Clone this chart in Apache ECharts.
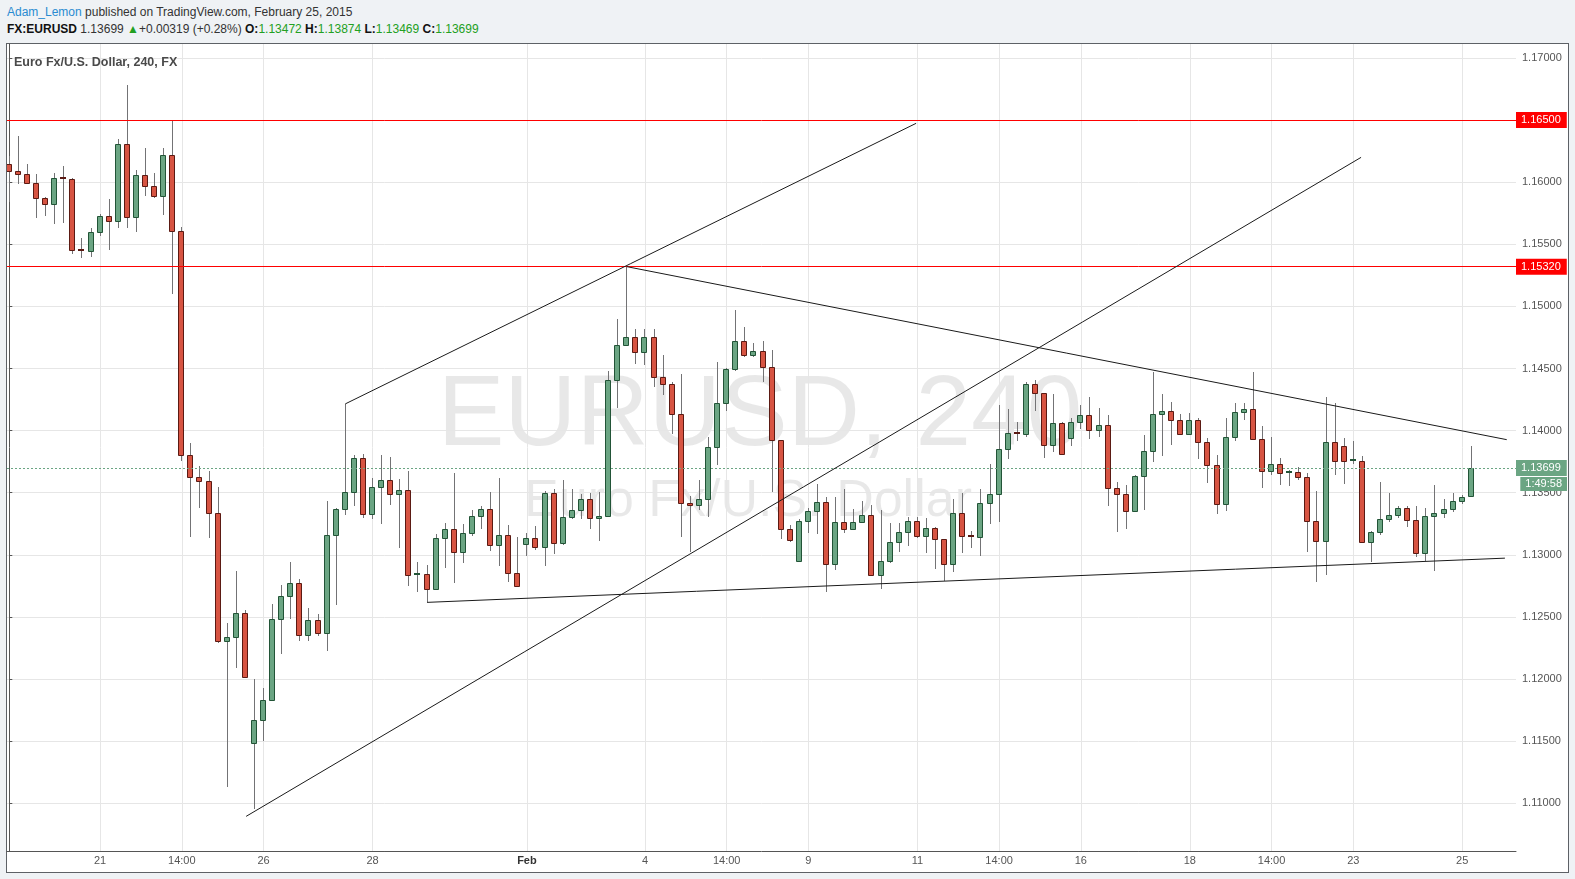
<!DOCTYPE html>
<html>
<head>
<meta charset="utf-8">
<script src="https://cdn.jsdelivr.net/npm/echarts@6/dist/echarts.min.js"></script>
<style>
  html, body { margin:0; padding:0; background:#eff2f5; }
  #wrap { position:relative; width:1575px; height:879px; overflow:hidden; }
  .hdr { position:absolute; left:7px; font-family:'Liberation Sans', Arial, sans-serif; font-size:12px; color:#333; white-space:nowrap; }
  #box { position:absolute; left:6px; top:43px; width:1563px; height:830px; box-sizing:border-box; background:#fff; border:1px solid #5d6166; }
  #chart { position:absolute; left:0; top:0; width:1575px; height:879px; }
  .g { color:#22a022; }
  b { color:#111; }
</style>
</head>
<body>
<div id="wrap">
  <div class="hdr" style="top:5px;"><span style="color:#2a8bd1">Adam_Lemon</span> published on TradingView.com, February 25, 2015</div>
  <div class="hdr" style="top:22px;"><b>FX:EURUSD</b> 1.13699 <span class="g">&#9650;</span>+0.00319 (+0.28%) <b>O:</b><span class="g">1.13472</span> <b>H:</b><span class="g">1.13874</span> <b>L:</b><span class="g">1.13469</span> <b>C:</b><span class="g">1.13699</span></div>
  <div id="box"></div>
  <div id="chart"></div>
</div>
<script>
// ---- data (4h EURUSD candles, index 0 = first visible bar) ----
const opens = [1.16145,1.16089,1.16065,1.15992,1.15871,1.15823,1.16032,1.16024,1.15452,1.15448,
1.15597,1.15729,1.15686,1.16306,1.15718,1.16056,1.15968,1.15887,1.16218,1.15605,
1.13803,1.13629,1.13594,1.13339,1.12307,1.12339,1.12530,1.11488,1.11673,1.11833,
1.12485,1.12670,1.12775,1.12356,1.12471,1.12367,1.13162,1.13368,1.13505,1.13780,
1.13328,1.13546,1.13602,1.13489,1.13522,1.12836,1.12842,1.12723,1.13134,1.13207,
1.13022,1.13175,1.13312,1.13368,1.13078,1.13159,1.12852,1.13086,1.13134,1.13062,
1.13497,1.13094,1.13304,1.13360,1.13449,1.13296,1.13310,1.14406,1.14692,1.14757,
1.14636,1.14757,1.14428,1.14372,1.14131,1.13417,1.13401,1.13449,1.13866,1.14219,
1.14495,1.14725,1.14612,1.14644,1.14516,1.13922,1.13211,1.12947,1.13275,1.13355,
1.13426,1.12923,1.13267,1.13211,1.13267,1.13322,1.12835,1.12947,1.13107,1.13187,
1.13275,1.13155,1.13219,1.13131,1.12923,1.13339,1.13155,1.13147,1.13418,1.13489,
1.13850,1.13979,1.13971,1.14372,1.14299,1.13882,1.14059,1.13938,1.14067,1.14126,
1.14008,1.14043,1.13537,1.13489,1.13353,1.13634,1.13834,1.14131,1.14155,1.14083,
1.13971,1.14083,1.13906,1.13722,1.13409,1.13946,1.14147,1.14171,1.13933,1.13675,
1.13731,1.13659,1.13667,1.13626,1.13272,1.13110,1.13909,1.13876,1.13755,1.13758,
1.13102,1.13183,1.13288,1.13320,1.13376,1.13280,1.13013,1.13312,1.13336,1.13368,
1.13433,1.13472];
const highs = [1.16212,1.16374,1.16148,1.16067,1.15882,1.16075,1.16132,1.16030,1.15551,1.15632,
1.15742,1.15866,1.16349,1.16785,1.16099,1.16274,1.16073,1.16274,1.16500,1.15637,
1.13901,1.13716,1.13678,1.13549,1.12454,1.12872,1.12558,1.11997,1.11931,1.12600,
1.12754,1.12938,1.12806,1.12572,1.12527,1.13437,1.13378,1.14215,1.13806,1.13815,
1.13618,1.13806,1.13790,1.13613,1.13677,1.12944,1.12920,1.13169,1.13258,1.13661,
1.13250,1.13363,1.13395,1.13508,1.13621,1.13239,1.13140,1.13174,1.13234,1.13516,
1.13532,1.13605,1.13532,1.13492,1.13497,1.13503,1.14479,1.14896,1.15320,1.14821,
1.14821,1.14821,1.14607,1.14390,1.14455,1.13476,1.13604,1.13946,1.14551,1.14508,
1.14968,1.14832,1.14703,1.14719,1.14650,1.13922,1.13237,1.13291,1.13378,1.13573,
1.13464,1.13464,1.13533,1.13365,1.13437,1.13397,1.13362,1.13259,1.13259,1.13307,
1.13307,1.13299,1.13227,1.13131,1.13450,1.13498,1.13195,1.13530,1.13730,1.14203,
1.14174,1.14069,1.14393,1.14406,1.14299,1.14294,1.14069,1.14099,1.14206,1.14270,
1.14182,1.14126,1.13588,1.13561,1.13642,1.13963,1.14473,1.14294,1.14230,1.14134,
1.14142,1.14099,1.13938,1.13805,1.14102,1.14222,1.14222,1.14473,1.14040,1.13952,
1.13780,1.13683,1.13707,1.13661,1.13513,1.14274,1.14226,1.13941,1.13919,1.13798,
1.13191,1.13589,1.13500,1.13393,1.13393,1.13393,1.13376,1.13562,1.13452,1.13497,
1.13481,1.13874];
const lows = [1.15844,1.15989,1.15987,1.15715,1.15731,1.15667,1.15675,1.15425,1.15387,1.15401,
1.15570,1.15457,1.15634,1.15634,1.15602,1.15892,1.15876,1.15739,1.15097,1.13754,
1.13141,1.13374,1.13134,1.12293,1.11132,1.12088,1.12010,1.10951,1.11502,1.11820,
1.12199,1.12482,1.12304,1.12304,1.12346,1.12224,1.12593,1.13317,1.13390,1.13293,
1.13285,1.13245,1.13401,1.13051,1.12745,1.12704,1.12617,1.12714,1.12890,1.12769,
1.12930,1.13151,1.13204,1.13030,1.12906,1.12777,1.12739,1.12989,1.13035,1.12906,
1.13003,1.13078,1.13288,1.13288,1.13207,1.13110,1.13302,1.14179,1.14692,1.14540,
1.14529,1.14353,1.14283,1.13976,1.13142,1.13021,1.13358,1.13302,1.13727,1.14160,
1.14481,1.14594,1.14596,1.14393,1.13505,1.13125,1.13104,1.12947,1.13173,1.13168,
1.12699,1.12880,1.13173,1.13197,1.13259,1.12835,1.12723,1.12930,1.13019,1.13072,
1.13139,1.13016,1.12883,1.12787,1.12859,1.13011,1.13051,1.12988,1.13251,1.13262,
1.13770,1.13920,1.13947,1.14160,1.13783,1.13826,1.13810,1.13880,1.14013,1.13933,
1.13952,1.13390,1.13182,1.13206,1.13353,1.13358,1.13751,1.13799,1.13888,1.13963,
1.13963,1.13770,1.13578,1.13329,1.13350,1.13914,1.14086,1.13922,1.13535,1.13640,
1.13559,1.13551,1.13599,1.13019,1.12780,1.12841,1.13640,1.13567,1.13731,1.13094,
1.12938,1.13159,1.13263,1.13296,1.13223,1.12981,1.12949,1.12866,1.13296,1.13344,
1.13409,1.13469];
const closes = [1.16089,1.16065,1.15992,1.15871,1.15823,1.16032,1.16024,1.15452,1.15448,1.15597,
1.15729,1.15686,1.16306,1.15718,1.16056,1.15968,1.15887,1.16218,1.15605,1.13803,
1.13629,1.13594,1.13339,1.12307,1.12339,1.12530,1.12018,1.11673,1.11833,1.12485,
1.12670,1.12775,1.12356,1.12471,1.12367,1.13162,1.13371,1.13505,1.13780,1.13328,
1.13546,1.13602,1.13489,1.13522,1.12836,1.12842,1.12723,1.13134,1.13207,1.13022,
1.13175,1.13312,1.13368,1.13078,1.13159,1.12852,1.12747,1.13134,1.13062,1.13497,
1.13094,1.13304,1.13360,1.13449,1.13296,1.13312,1.14406,1.14692,1.14757,1.14636,
1.14757,1.14428,1.14372,1.14131,1.13417,1.13401,1.13449,1.13866,1.14219,1.14495,
1.14725,1.14612,1.14644,1.14516,1.13922,1.13211,1.13123,1.13275,1.13355,1.13426,
1.12923,1.13267,1.13211,1.13267,1.13322,1.12835,1.12947,1.13107,1.13187,1.13275,
1.13155,1.13219,1.13131,1.12923,1.13339,1.13155,1.13147,1.13418,1.13490,1.13850,
1.13979,1.13971,1.14372,1.14299,1.13882,1.14059,1.13810,1.14067,1.14126,1.14008,
1.14043,1.13537,1.13489,1.13353,1.13634,1.13834,1.14131,1.14155,1.14083,1.13971,
1.14083,1.13906,1.13722,1.13409,1.13946,1.14147,1.14171,1.13930,1.13675,1.13731,
1.13659,1.13667,1.13626,1.13272,1.13110,1.13909,1.13755,1.13755,1.13761,1.13102,
1.13183,1.13288,1.13320,1.13376,1.13280,1.13013,1.13312,1.13336,1.13368,1.13433,
1.13465,1.13699];

// time-axis labels (bar index -> text)
const timeTickIdx = [10,19,28,40,57,70,79,88,100,109,118,130,139,148,160];
const timeTickText = ['21','14:00','26','28','Feb','4','14:00','9','11','14:00','16','18','14:00','23','25'];

// price-axis ticks
const priceTicks = [1.110,1.115,1.120,1.125,1.130,1.135,1.140,1.145,1.150,1.155,1.160,1.165,1.170];

// horizontal levels
const redLevels = [1.16500, 1.15320];
const lastPrice = 1.13699;
const countdown = '1:49:58';

// drawn trend lines: [barIndex, price] pairs
const trendUpperChannel = [[37, 1.14215], [99.86, 1.16474]];
const trendLowerChannel = [[26.08, 1.10894], [148.86, 1.16200]];
const trendResistance   = [[68, 1.15320], [164.9, 1.13927]];
const trendSupport      = [[46, 1.12617], [164.7, 1.12973]];

const candleData = opens.map((o, i) => [i, o, closes[i], lows[i], highs[i]]);

const chart = echarts.init(document.getElementById('chart'), null, {renderer:'canvas'});

function renderCandle(params, api) {
  const i = api.value(0), o = api.value(1), c = api.value(2), l = api.value(3), h = api.value(4);
  const pO = api.coord([i, o]), pC = api.coord([i, c]), pL = api.coord([i, l]), pH = api.coord([i, h]);
  const x = Math.floor(pO[0]);
  const up = c >= o;
  const top = Math.round(Math.min(pO[1], pC[1]));
  const bot = Math.round(Math.max(pO[1], pC[1]));
  const children = [{
    type: 'line',
    shape: {x1: x + 0.5, y1: Math.round(pH[1]), x2: x + 0.5, y2: Math.round(pL[1])},
    style: {stroke: '#737375', lineWidth: 1}
  }];
  if (bot - top >= 2) {
    children.push({
      type: 'rect',
      shape: {x: x - 2.5, y: top + 0.5, width: 5, height: bot - top},
      style: {fill: up ? '#6ba583' : '#d75442', stroke: up ? '#225437' : '#5b1a13', lineWidth: 1}
    });
  } else {
    children.push({
      type: 'rect',
      shape: {x: x - 3, y: top - 1, width: 6, height: 2},
      style: {fill: up ? '#225437' : '#5b1a13'}
    });
  }
  return {type: 'group', children};
}

function trendSeries(pts) {
  return {
    type: 'line', data: pts, symbol: 'none', silent: true, z: 5,
    lineStyle: {color: '#1a1a1a', width: 1}, clip: true, animation: false
  };
}

const lblFont = "'Liberation Sans', Arial, sans-serif";

function levelLine(value, color, dashed) {
  return {
    yAxis: value,
    lineStyle: {color: color, width: 1, type: dashed ? [2, 2] : 'solid'},
    label: {show: true, position: 'end', distance: 0, formatter: value.toFixed(5), color: '#fff',
            backgroundColor: color, padding: [2, 6, 2, 5], fontSize: 11, fontFamily: lblFont, lineHeight: 12}
  };
}

const option = {
  animation: false,
  grid: {left: 7, top: 44, right: 59, bottom: 28, show: false},
  xAxis: {
    type: 'value', min: -0.253, max: 165.92,
    axisLine: {show: true, onZero: false, lineStyle: {color: '#555', width: 1}},
    axisTick: {show: false, customValues: timeTickIdx},
    splitLine: {show: true, lineStyle: {color: '#e6e6e6', width: 1}},
    axisLabel: {
      customValues: timeTickIdx, margin: 4, color: '#555', fontSize: 11, fontFamily: lblFont,
      formatter: v => {
        const k = timeTickIdx.indexOf(Math.round(v));
        const t = k >= 0 ? timeTickText[k] : '';
        return t === 'Feb' ? '{b|Feb}' : t;
      },
      rich: {b: {fontWeight: 'bold', color: '#333', fontSize: 11, fontFamily: lblFont}}
    }
  },
  yAxis: {
    type: 'value', position: 'right', min: 1.106151, max: 1.171127,
    axisLine: {show: true, lineStyle: {color: '#555', width: 1}},
    axisTick: {show: true, length: 3, customValues: priceTicks, lineStyle: {color: '#555'}},
    splitLine: {show: true, lineStyle: {color: '#e6e6e6', width: 1}},
    axisLabel: {
      customValues: priceTicks, margin: 6, color: '#555', fontSize: 11, fontFamily: lblFont,
      formatter: v => v.toFixed(5)
    }
  },
  graphic: [
    {id: 'symTitle', type: 'text', left: 14, top: 56, z: 10, style: {text: 'Euro Fx/U.S. Dollar, 240, FX', fill: '#4a4a4a', font: "bold 12.5px " + lblFont}},
    {id: 'wm1', type: 'text', x: 760, y: 417, z: -1, silent: true, style: {text: 'EURUSD, 240', fill: 'rgba(0,0,0,0.09)', font: "100px " + lblFont, align: 'center', verticalAlign: 'middle'}},
    {id: 'wm2', type: 'text', x: 748, y: 502, z: -1, silent: true, style: {text: 'Euro Fx/U.S. Dollar', fill: 'rgba(0,0,0,0.09)', font: "52px " + lblFont, align: 'center', verticalAlign: 'middle'}}
  ],
  series: [
    {
      type: 'custom', renderItem: renderCandle, data: candleData, clip: true, z: 3,
      encode: {x: 0, y: [1, 2, 3, 4]},
      markLine: {
        silent: true, symbol: 'none', animation: false, precision: 5,
        data: [
          levelLine(redLevels[0], '#ff0000', false),
          levelLine(redLevels[1], '#ff0000', false),
          levelLine(lastPrice, '#6ba583', true)
        ]
      }
    },
    trendSeries(trendUpperChannel),
    trendSeries(trendLowerChannel),
    trendSeries(trendResistance),
    trendSeries(trendSupport)
  ]
};
chart.setOption(option);

// countdown box under the last-price label, positioned through the y scale
const yLast = chart.convertToPixel({yAxisIndex: 0}, lastPrice);
const xAxisEnd = chart.convertToPixel({xAxisIndex: 0}, 165.92);
chart.setOption({
  graphic: [
    {id: 'countdown', type: 'text', x: xAxisEnd + 51, y: yLast + 16, z: 100, silent: true,
     style: {text: countdown, fill: '#fff', backgroundColor: '#6ba583', padding: [1, 5, 1, 5], font: "11px " + lblFont, align: 'right', verticalAlign: 'middle', lineHeight: 12}}
  ]
});
</script>
</body>
</html>
